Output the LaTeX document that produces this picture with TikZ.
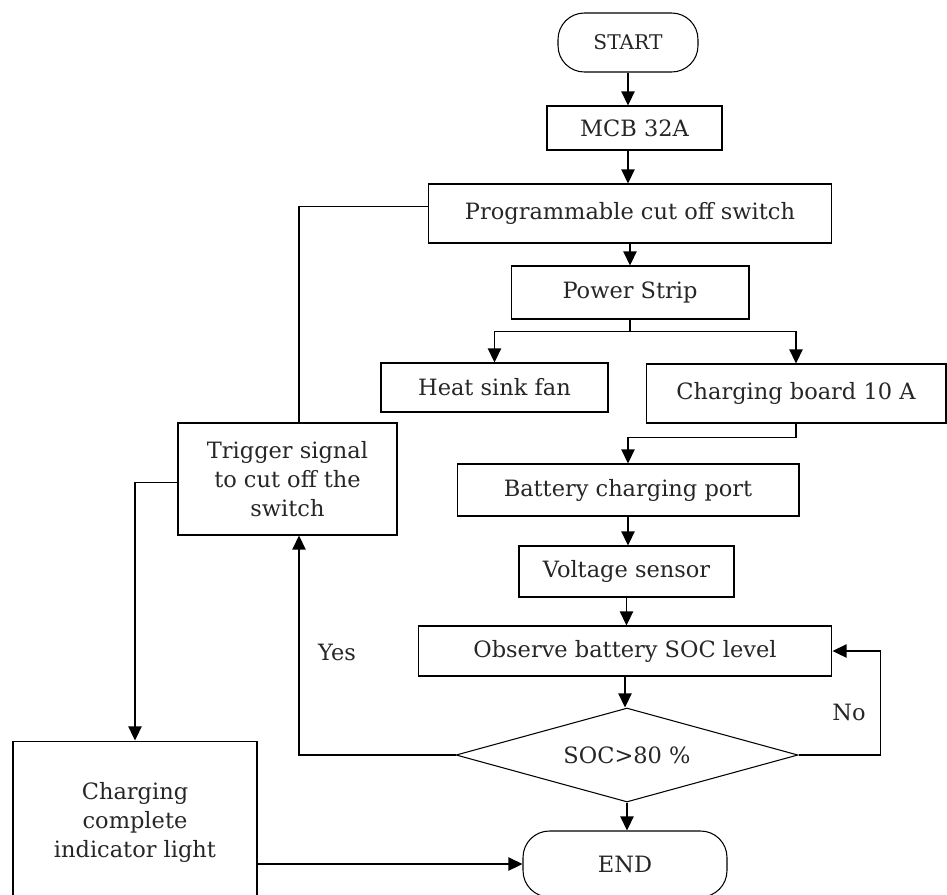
\documentclass[tikz,border=0pt]{standalone}
\usepackage{fontspec}
\setmainfont{DejaVu Serif}
\usepackage{tikz}
\usetikzlibrary{arrows.meta,shapes.geometric}

\begin{document}
\begin{tikzpicture}[x=0.02cm, y=-0.02cm, >={Triangle[length=8pt,width=7.5pt]},
  font=\fontsize{12.8}{16.5}\selectfont,
  box/.style={draw, line width=0.6pt, rectangle, inner sep=2pt, align=center, text=black!85},
  term/.style={box, rounded corners=15pt},
  decision/.style={draw, line width=0.6pt, diamond, aspect=3.6, inner sep=1pt, text=black!85},
  flow/.style={line width=1pt},
  lbl/.style={text=black!85}]
\clip (0,0) rectangle (947,894);

% main chain
\node[term, minimum width=2.8cm, minimum height=1.18cm] (start) at (628,42.5) {\fontsize{11.5}{13}\selectfont START};
\node[box, minimum width=3.5cm, minimum height=0.88cm] (mcb) at (634.5,128) {MCB 32A};
\node[box, minimum width=8.08cm, minimum height=1.18cm] (prog) at (630,213.5) {Programmable cut off switch};
\node[box, minimum width=4.76cm, minimum height=1.06cm] (strip) at (630,292.5) {Power Strip};
\node[box, minimum width=4.54cm, minimum height=0.98cm] (fan) at (494.5,387.5) {Heat sink fan};
\node[box, minimum width=6.0cm, minimum height=1.18cm] (board) at (796,393.5) {Charging board 10 A};
\node[box, minimum width=6.84cm, minimum height=1.04cm] (port) at (628,490) {Battery charging port};
\node[box, minimum width=4.3cm, minimum height=1.02cm] (sensor) at (626.5,571.5) {Voltage sensor};
\node[box, minimum width=8.28cm, minimum height=1.0cm] (observe) at (625,651) {Observe battery SOC level};
\node[decision, minimum width=6.84cm, minimum height=1.88cm] (soc) at (627,755) {SOC>80 \%};
\node[term, minimum width=4.08cm, minimum height=1.32cm] (end) at (625,864) {END};

% left side: cut off and indicator
\node[box, minimum width=4.38cm, minimum height=2.24cm] (trigger) at (287.5,479) {Trigger signal\\to cut off the\\switch};
\node[box, minimum width=4.88cm, minimum height=3.24cm] (light) at (135,822) {Charging\\complete\\indicator light};
\coordinate (tx) at (299,0);

% labels
\node[lbl] (yes) at (337,652) {Yes};
\node[lbl] (no) at (849,712) {No};

% connectors
\draw[flow,->] (start.south) -- (start.south |- mcb.north);
\draw[flow,->] (mcb.south -| start.south) -- (start.south |- prog.north);
\draw[flow,->] (prog.south) -- (strip.north);
\draw[flow,->] (strip.south) -- ++(0,12) -| (fan.north);
\draw[flow,->] (strip.south) -- ++(0,12) -| (board.north);
\draw[flow,->] (board.south) -- ++(0,14) -| (port.north);
\draw[flow,->] (port.south) -- (port.south |- sensor.north);
\draw[flow,->] (sensor.south) -- (sensor.south |- observe.north);
\draw[flow,->] (observe.south) -- (observe.south |- soc.north);
\draw[flow,->] (soc.south) -- (soc.south |- end.north);
\draw[flow,->] (soc.east) -- ++(82,0) |- (observe.east);
\draw[flow,->] (soc.west) -| (tx |- trigger.south);
\draw[flow] ([yshift=4pt]prog.west) -| (tx |- trigger.north);
\draw[flow,->] ([yshift=-2pt]trigger.west) -| (light.north);
\draw[flow,->] (light.east |- end.west) -- (end.west);
\end{tikzpicture}
\end{document}
